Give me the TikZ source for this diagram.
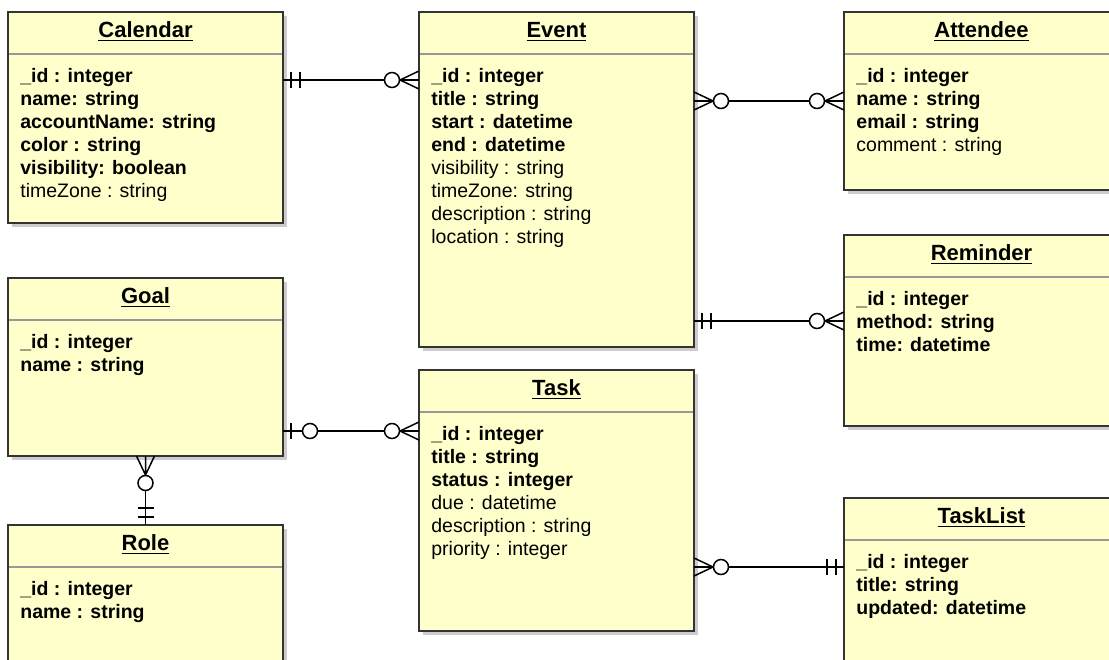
\documentclass[tikz,border=0pt]{standalone}
\usepackage{fontspec}
\setmainfont{Liberation Sans}
\usetikzlibrary{positioning,shadows}
\definecolor{erfill}{HTML}{FFFFCC}
\tikzstyle{rel} = [line width=0.75pt, black]
\tikzstyle{entity} = [draw=black!80, line width=1pt, fill=erfill, rectangle,
    anchor=north west, inner sep=0pt, outer sep=0pt, minimum width=137.5pt,
    drop shadow={shadow xshift=2pt, shadow yshift=-2pt, fill=black!20, opacity=1}]
\tikzstyle{etitle} = [font=\bfseries\fontsize{11}{13}\selectfont, anchor=base, inner sep=0pt]
\tikzstyle{attrs} = [font=\fontsize{9.75}{11.5}\selectfont, align=left, anchor=north west, inner sep=0pt]
\tikzstyle{sep} = [line width=0.8pt, black!40, shorten <=0.5pt, shorten >=0.5pt]
\tikzset{
  onlyone/.pic={\draw[rel] (8,-8) -- (8,8) (17,-8) -- (17,8);},
  zeroone/.pic={\draw[rel] (8,-8) -- (8,8); \draw[rel, fill=white] (27,0) circle [radius=7.5];},
  zeromany/.pic={\draw[rel] (0,-9) -- (19,0) -- (0,9) (0,0) -- (19,0); \draw[rel, fill=white] (27,0) circle [radius=7.5];}
}
\begin{document}
\begin{tikzpicture}[x=0.5pt, y=-0.5pt]
     \useasboundingbox (0,0) rectangle (1109,659);
     \clip (0,0) rectangle (1109,659);
     \fill[white] (0,0) rectangle (1109,659);

     % Calendar
     \node [entity, minimum height=105.5pt] (calendar) at (8,12) {};
     \node [etitle] (calendartitle) at ([yshift=-12.75pt]calendar.north) {\underline{Calendar}};
     \draw [sep] ([yshift=-21pt]calendar.north west) -- ([yshift=-21pt]calendar.north east);
     \node [attrs] (calendarattrs) at ([xshift=6pt, yshift=-28pt]calendar.north west)
        {\textbf{\_id : integer}\\ \textbf{name: string}\\ \textbf{accountName: string}\\
         \textbf{color : string}\\ \textbf{visibility: boolean}\\ timeZone : string};

     % Event
     \node [entity, minimum height=167.5pt] (event) at (419,12) {};
     \node [etitle] (eventtitle) at ([yshift=-12.75pt]event.north) {\underline{Event}};
     \draw [sep] ([yshift=-21pt]event.north west) -- ([yshift=-21pt]event.north east);
     \node [attrs] (eventattrs) at ([xshift=6pt, yshift=-28pt]event.north west)
        {\textbf{\_id : integer}\\ \textbf{title : string}\\ \textbf{start : datetime}\\
         \textbf{end : datetime}\\ visibility : string\\ timeZone: string\\
         description : string\\ location : string};

     % Attendee
     \node [entity, minimum height=89pt] (attendee) at (844,12) {};
     \node [etitle] (attendeetitle) at ([yshift=-12.75pt]attendee.north) {\underline{Attendee}};
     \draw [sep] ([yshift=-21pt]attendee.north west) -- ([yshift=-21pt]attendee.north east);
     \node [attrs] (attendeeattrs) at ([xshift=6pt, yshift=-28pt]attendee.north west)
        {\textbf{\_id : integer}\\ \textbf{name : string}\\ \textbf{email : string}\\ comment : string};

     % Reminder
     \node [entity, minimum height=95.5pt] (reminder) at (844,235) {};
     \node [etitle] (remindertitle) at ([yshift=-12.75pt]reminder.north) {\underline{Reminder}};
     \draw [sep] ([yshift=-21pt]reminder.north west) -- ([yshift=-21pt]reminder.north east);
     \node [attrs] (reminderattrs) at ([xshift=6pt, yshift=-28pt]reminder.north west)
        {\textbf{\_id : integer}\\ \textbf{method: string}\\ \textbf{time: datetime}};

     % Goal
     \node [entity, minimum height=89pt] (goal) at (8,278) {};
     \node [etitle] (goaltitle) at ([yshift=-12.75pt]goal.north) {\underline{Goal}};
     \draw [sep] ([yshift=-21pt]goal.north west) -- ([yshift=-21pt]goal.north east);
     \node [attrs] (goalattrs) at ([xshift=6pt, yshift=-28pt]goal.north west)
        {\textbf{\_id : integer}\\ \textbf{name : string}};

     % Task
     \node [entity, minimum height=130.5pt] (task) at (419,370) {};
     \node [etitle] (tasktitle) at ([yshift=-12.75pt]task.north) {\underline{Task}};
     \draw [sep] ([yshift=-21pt]task.north west) -- ([yshift=-21pt]task.north east);
     \node [attrs] (taskattrs) at ([xshift=6pt, yshift=-28pt]task.north west)
        {\textbf{\_id : integer}\\ \textbf{title : string}\\ \textbf{status : integer}\\
         due : datetime\\ description : string\\ priority : integer};

     % Role
     \node [entity, minimum height=80pt] (role) at (8,525) {};
     \node [etitle] (roletitle) at ([yshift=-12.75pt]role.north) {\underline{Role}};
     \draw [sep] ([yshift=-21pt]role.north west) -- ([yshift=-21pt]role.north east);
     \node [attrs] (roleattrs) at ([xshift=6pt, yshift=-28pt]role.north west)
        {\textbf{\_id : integer}\\ \textbf{name : string}};

     % TaskList
     \node [entity, minimum height=91pt] (tasklist) at (844,498) {};
     \node [etitle] (tasklisttitle) at ([yshift=-12.75pt]tasklist.north) {\underline{TaskList}};
     \draw [sep] ([yshift=-21pt]tasklist.north west) -- ([yshift=-21pt]tasklist.north east);
     \node [attrs] (tasklistattrs) at ([xshift=6pt, yshift=-28pt]tasklist.north west)
        {\textbf{\_id : integer}\\ \textbf{title: string}\\ \textbf{updated: datetime}};

     % relations
     \draw [rel] (calendar.east |- 0,80) -- (event.west |- 0,80);
     \pic at (calendar.east |- 0,80) {onlyone};
     \pic [rotate=180] at (event.west |- 0,80) {zeromany};

     \draw [rel] (event.east |- 0,101) -- (attendee.west |- 0,101);
     \pic at (event.east |- 0,101) {zeromany};
     \pic [rotate=180] at (attendee.west |- 0,101) {zeromany};

     \draw [rel] (event.east |- 0,321) -- (reminder.west |- 0,321);
     \pic at (event.east |- 0,321) {onlyone};
     \pic [rotate=180] at (reminder.west |- 0,321) {zeromany};

     \draw [rel] (goal.east |- 0,431) -- (task.west |- 0,431);
     \pic at (goal.east |- 0,431) {zeroone};
     \pic [rotate=180] at (task.west |- 0,431) {zeromany};

     \draw [rel] (goal.south) -- (role.north);
     \pic [rotate=-90] at (goal.south) {zeromany};
     \pic [rotate=90] at (role.north) {onlyone};

     \draw [rel] (task.east |- 0,567) -- (tasklist.west |- 0,567);
     \pic at (task.east |- 0,567) {zeromany};
     \pic [rotate=180] at (tasklist.west |- 0,567) {onlyone};
\end{tikzpicture}
\end{document}
